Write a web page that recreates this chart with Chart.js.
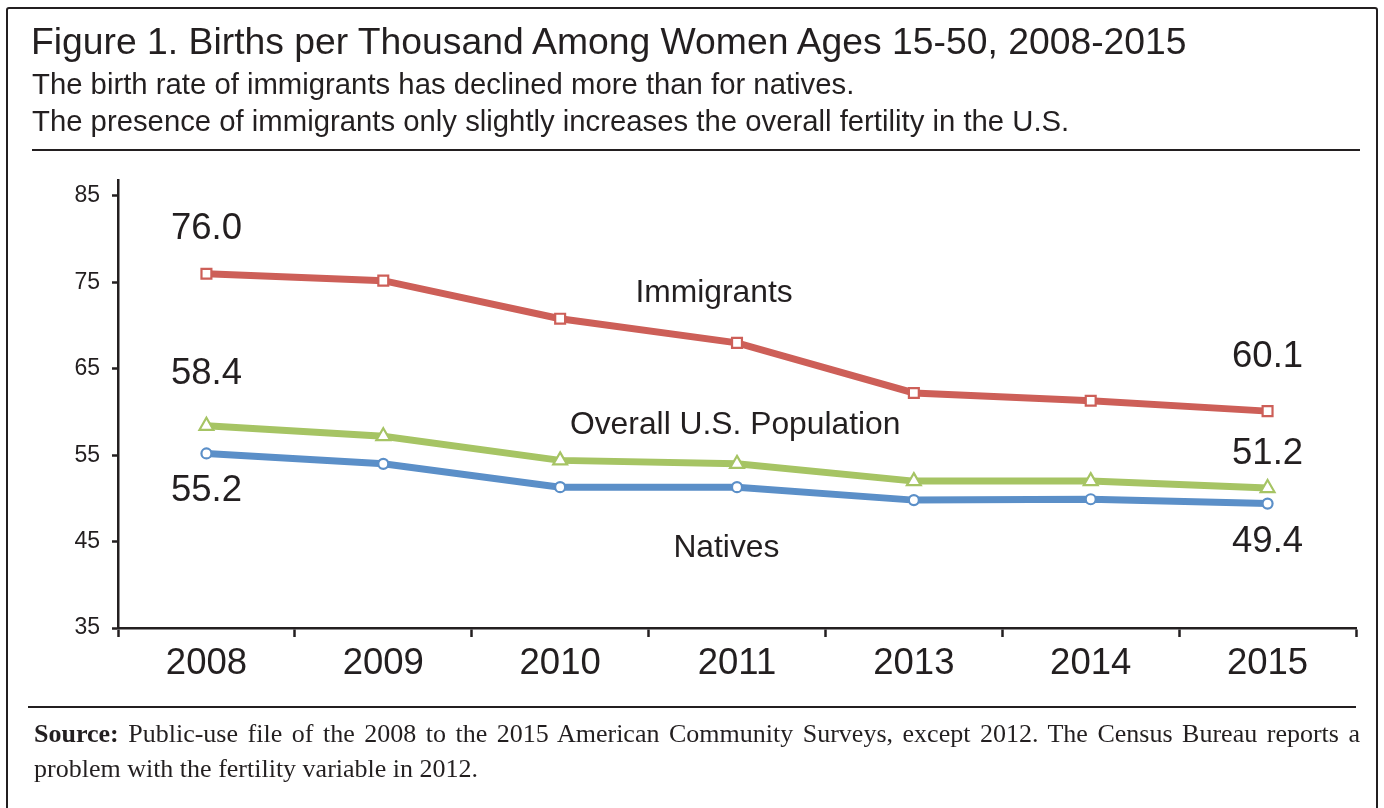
<!DOCTYPE html>
<html>
<head>
<meta charset="utf-8">
<script src="https://cdn.jsdelivr.net/npm/chart.js@4.4.1/dist/chart.umd.min.js"></script>
<style>
  html, body { margin: 0; padding: 0; background: #fff; }
  #page { position: relative; width: 1384px; height: 808px; overflow: hidden; font-family: "Liberation Sans", Arial, sans-serif; color: #231f20; }
  #frame { position: absolute; left: 6px; top: 7px; width: 1372px; height: 820px; border: 2.5px solid #231f20; border-radius: 3px; box-sizing: border-box; }
  #title { position: absolute; left: 31px; top: 20px; font-size: 37.3px; white-space: nowrap; }
  .sub { position: absolute; left: 32px; font-size: 29.3px; white-space: nowrap; }
  .rule { position: absolute; height: 2px; background: #231f20; }
  .src { position: absolute; left: 34px; width: 1326px; font-family: "Liberation Serif", "DejaVu Serif", serif; font-size: 26px; line-height: 35px; white-space: nowrap; }
  #chart { position: absolute; left: 0; top: 0; }
</style>
</head>
<body>
<div id="page">
  <canvas id="chart" width="1384" height="808"></canvas>
  <div id="frame"></div>
  <div id="title">Figure 1. Births per Thousand Among Women Ages 15-50, 2008-2015</div>
  <div class="sub" style="top:67px">The birth rate of immigrants has declined more than for natives.</div>
  <div class="sub" style="top:104px">The presence of immigrants only slightly increases the overall fertility in the U.S.</div>
  <div class="rule" style="left:32px; top:149px; width:1328px"></div>
  <div class="rule" style="left:28px; top:706px; width:1328px"></div>
  <div class="src" style="top:716px; text-align:justify; text-align-last:justify; white-space:normal"><b>Source:</b> Public-use file of the 2008 to the 2015 American Community Surveys, except 2012. The Census Bureau reports a</div>
  <div class="src" style="top:751px">problem with the fertility variable in 2012.</div>
</div>
<script>
const years = ['2008', '2009', '2010', '2011', '2013', '2014', '2015'];
const immigrants = [76.0, 75.2, 70.8, 68.0, 62.2, 61.3, 60.1];
const overall = [58.4, 57.2, 54.4, 54.0, 52.0, 52.0, 51.2];
const natives = [55.2, 54.0, 51.3, 51.3, 49.8, 49.9, 49.4];
const yTicks = [35, 45, 55, 65, 75, 85];

const seriesLabels = [
    { text: 'Immigrants', idx: 2.87, val: 73.8 },
    { text: 'Overall U.S. Population', idx: 2.99, val: 58.5 },
    { text: 'Natives', idx: 2.94, val: 44.2 }
];

const ink = '#231f20';

// value labels at the two ends of each line, shifted up or down from the point
const endLabels = [
    { data: immigrants, idx: 0, dy: -45 },
    { data: overall, idx: 0, dy: -52 },
    { data: natives, idx: 0, dy: 37 },
    { data: immigrants, idx: 6, dy: -54 },
    { data: overall, idx: 6, dy: -34 },
    { data: natives, idx: 6, dy: 38 }
];

const textPlugin = {
    id: 'chartText',
    afterDatasetsDraw(chart) {
        const ctx = chart.ctx;
        const x = chart.scales.x;
        const y = chart.scales.y;
        ctx.save();
        ctx.fillStyle = ink;
        ctx.textAlign = 'center';
        ctx.textBaseline = 'middle';
        ctx.font = '36.5px "Liberation Sans", Arial, sans-serif';
        endLabels.forEach(l => {
            const v = l.data[l.idx];
            ctx.fillText(v.toFixed(1), x.getPixelForValue(l.idx), y.getPixelForValue(v) + l.dy);
        });
        ctx.font = '31.8px "Liberation Sans", Arial, sans-serif';
        seriesLabels.forEach(l => {
            ctx.fillText(l.text, x.getPixelForValue(l.idx), y.getPixelForValue(l.val));
        });
        ctx.restore();
    }
};

const line = (label, data, color, style, radius) => ({
    label: label,
    data: data,
    borderColor: color,
    borderWidth: 7,
    pointStyle: style,
    pointRadius: radius,
    pointBorderWidth: 2.2,
    pointBackgroundColor: '#fff',
    pointBorderColor: color,
    tension: 0
});

new Chart(document.getElementById('chart'), {
    type: 'line',
    data: {
        labels: years,
        datasets: [
            line('Immigrants', immigrants, '#cd5f58', 'rect', 7),
            line('Overall U.S. Population', overall, '#a6c464', 'triangle', 8),
            line('Natives', natives, '#5b8fc8', 'circle', 5)
        ]
    },
    plugins: [textPlugin],
    options: {
        responsive: false,
        animation: false,
        layout: { padding: { left: 58, right: 28, top: 180, bottom: 120 } },
        plugins: {
            legend: { display: false },
            tooltip: { enabled: false }
        },
        scales: {
            x: {
                offset: true,
                afterFit: s => { s.height = 60; },
                grid: { offset: true, drawOnChartArea: false, tickLength: 9, tickColor: ink, tickWidth: 2.5 },
                border: { color: ink, width: 2.5 },
                ticks: { color: ink, padding: 5, font: { size: 36.5, family: '"Liberation Sans", Arial, sans-serif' } }
            },
            y: {
                min: 35,
                max: 86.85,
                afterFit: s => { s.width = 60; },
                afterBuildTicks: s => { s.ticks = yTicks.map(v => ({ value: v })); },
                grid: { drawOnChartArea: false, tickLength: 6, tickColor: ink, tickWidth: 2.5 },
                border: { color: ink, width: 2.5 },
                ticks: { color: ink, padding: 12, font: { size: 23, family: '"Liberation Sans", Arial, sans-serif' } }
            }
        }
    }
});
</script>
</body>
</html>
